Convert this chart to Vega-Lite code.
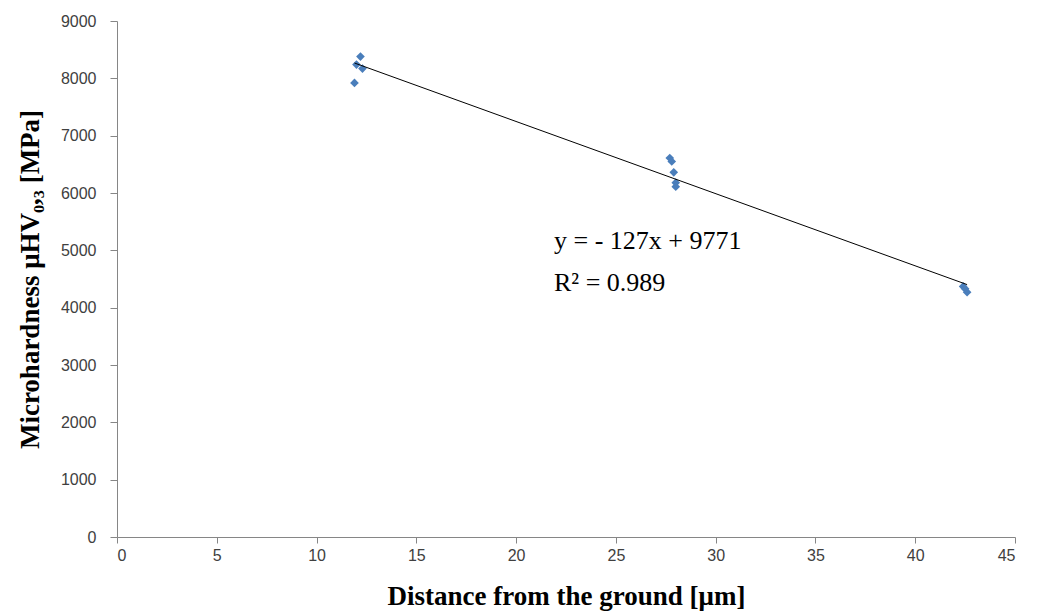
{
  "$schema": "https://vega.github.io/schema/vega-lite/v6.json",
  "autosize": "none",
  "padding": {"left": 117, "top": 21, "right": 25, "bottom": 76},
  "width": 898,
  "height": 516,
  "background": "white",
  "config": {"view": {"stroke": null}},
  "layer": [
    {
      "data": {"values": [
        {"distance": 12.2, "hardness": 8380},
        {"distance": 12.0, "hardness": 8240},
        {"distance": 12.3, "hardness": 8170},
        {"distance": 11.9, "hardness": 7920},
        {"distance": 27.7, "hardness": 6610},
        {"distance": 27.8, "hardness": 6550},
        {"distance": 27.9, "hardness": 6360},
        {"distance": 28.0, "hardness": 6180},
        {"distance": 28.0, "hardness": 6110},
        {"distance": 42.4, "hardness": 4370},
        {"distance": 42.5, "hardness": 4330},
        {"distance": 42.6, "hardness": 4270}
      ]},
      "layer": [
        {
          "mark": {"type": "point", "shape": "diamond", "filled": true, "size": 75, "color": "#4a7ebb", "opacity": 1},
          "encoding": {
            "x": {"field": "distance", "type": "quantitative",
              "scale": {"domain": [0, 45], "nice": false, "zero": false},
              "axis": {"values": [0,5,10,15,20,25,30,35,40,45], "grid": false, "format": "d",
                "title": "Distance from the ground [μm]",
                "titleFont": "Liberation Serif", "titleFontSize": 27, "titleFontWeight": "bold", "titleColor": "#000000",
                "titlePadding": 20,
                "labelFont": "Liberation Sans", "labelFontSize": 16, "labelColor": "#404040", "labelPadding": 4,
                "domainColor": "#868686", "tickColor": "#868686", "tickSize": 6}},
            "y": {"field": "hardness", "type": "quantitative",
              "scale": {"domain": [0, 9000], "nice": false},
              "axis": {"values": [0,1000,2000,3000,4000,5000,6000,7000,8000,9000], "grid": false, "format": "d",
                "title": "Microhardness  μHV₀,₃ [MPa]",
                "titleFont": "Liberation Serif", "titleFontSize": 27, "titleFontWeight": "bold", "titleColor": "#000000",
                "titlePadding": 16,
                "labelFont": "Liberation Sans", "labelFontSize": 16, "labelColor": "#404040", "labelPadding": 14,
                "domainColor": "#868686", "tickColor": "#868686", "tickSize": 7}}
          }
        },
        {
          "transform": [{"regression": "hardness", "on": "distance"}],
          "mark": {"type": "line", "color": "#000000", "strokeWidth": 1},
          "encoding": {
            "x": {"field": "distance", "type": "quantitative"},
            "y": {"field": "hardness", "type": "quantitative"}
          }
        }
      ]
    },
    {
      "data": {"values": [
        {"label": "y = - 127x + 9771", "lx": 21.9, "ly": 5170},
        {"label": "R² = 0.989", "lx": 21.9, "ly": 4430}
      ]},
      "mark": {"type": "text", "align": "left", "baseline": "middle", "font": "Liberation Serif", "fontSize": 26, "fontWeight": "normal", "color": "#000000"},
      "encoding": {
        "x": {"field": "lx", "type": "quantitative"},
        "y": {"field": "ly", "type": "quantitative"},
        "text": {"field": "label"}
      }
    }
  ]
}
